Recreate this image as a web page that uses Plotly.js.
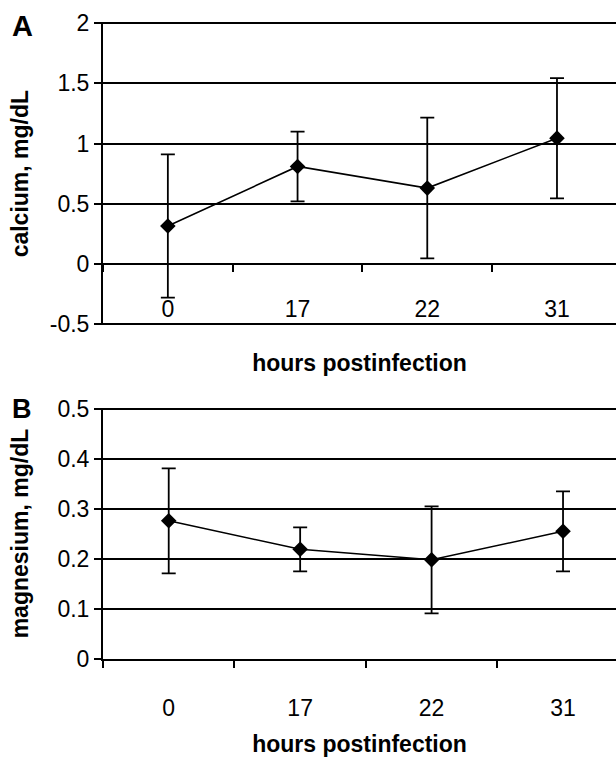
<!DOCTYPE html>
<html>
<head>
<meta charset="utf-8">
<script src="https://cdn.plot.ly/plotly-3.0.1.min.js"></script>
<style>
  html, body { margin: 0; padding: 0; background: #fff; }
  #chart { width: 616px; height: 757px; }
</style>
</head>
<body>
<div id="chart"></div>
<script>
// ---- data ----
const hours = ['0', '17', '22', '31'];
const calcium = [0.315, 0.81, 0.63, 1.045];
const calciumErr = [0.595, 0.29, 0.585, 0.50];
const magnesium = [0.277, 0.22, 0.199, 0.256];
const magnesiumErr = [0.105, 0.044, 0.107, 0.08];
const calciumTicks = [-0.5, 0, 0.5, 1, 1.5, 2];
const magnesiumTicks = [0, 0.1, 0.2, 0.3, 0.4, 0.5];

// ---- layout geometry ----
const H = 757;
// small padding so the edge gridlines (2, -0.5, 0.5) are drawn
const pxA = 120.3, eA = 0.012;          // px per unit, padding in data units
const pxB = 500, eB = 0.003;
const domA = [1 - (324 + eA * pxA) / H, 1 - (23.3 - eA * pxA) / H];
const rangeA = [-0.5 - eA, 2 + eA];
const domB = [1 - 659.3 / H, 1 - (409.3 - eB * pxB) / H];
const rangeB = [0, 0.5 + eB];
const posZeroA = domA[0] + (0 - rangeA[0]) / (rangeA[1] - rangeA[0]) * (domA[1] - domA[0]);

const FONT = 'Liberation Sans, Arial, sans-serif';
const black = '#000';

function seriesTrace(y, err, xa, ya) {
  return {
    type: 'scatter', mode: 'lines+markers',
    x: hours, y: y, xaxis: xa, yaxis: ya,
    line: { color: black, width: 1.6 },
    marker: { symbol: 'diamond', size: 12, color: black },
    error_y: { type: 'data', array: err, visible: true, color: black, thickness: 1.8, width: 7 },
    showlegend: false, cliponaxis: false
  };
}

const data = [
  seriesTrace(calcium, calciumErr, 'x', 'y'),
  seriesTrace(magnesium, magnesiumErr, 'x2', 'y2')
];

const yCommon = {
  showline: true, linecolor: black, linewidth: 2,
  ticks: 'outside', ticklen: 7, tickcolor: black, tickwidth: 2,
  showgrid: true, gridcolor: black, gridwidth: 2,
  zeroline: false,
  tickfont: { family: FONT, size: 23, color: black },
  title: { font: { family: FONT, size: 23, color: black, weight: 'bold' } }
};

const xCommon = {
  type: 'category',
  showline: true, linecolor: black, linewidth: 2,
  ticks: 'outside', ticklen: 7, tickcolor: black, tickwidth: 2,
  tickson: 'boundaries',
  showgrid: false, zeroline: false,
  tickfont: { family: FONT, size: 23, color: black },
  title: { text: 'hours postinfection', font: { family: FONT, size: 23, color: black, weight: 'bold' } }
};

const layout = {
  width: 616, height: 757,
  margin: { l: 103, r: 0, t: 0, b: 0 },
  paper_bgcolor: '#fff', plot_bgcolor: '#fff',
  font: { family: FONT, color: black },
  xaxis: Object.assign({}, xCommon, {
    range: [-0.5, 3.455],
    anchor: 'free', position: posZeroA,
    ticklabelstandoff: 25,
    title: Object.assign({}, xCommon.title, { standoff: 32 })
  }),
  yaxis: Object.assign({}, yCommon, {
    domain: domA, range: rangeA,
    tickvals: calciumTicks, ticktext: calciumTicks.map(String),
    anchor: 'x',
    title: Object.assign({}, yCommon.title, { text: 'calcium, mg/dL', standoff: 15 })
  }),
  xaxis2: Object.assign({}, xCommon, {
    range: [-0.5, 3.403],
    anchor: 'y2',
    ticklabelstandoff: 27,
    title: Object.assign({}, xCommon.title, { standoff: 33 })
  }),
  yaxis2: Object.assign({}, yCommon, {
    domain: domB, range: rangeB,
    tickvals: magnesiumTicks, ticktext: magnesiumTicks.map(String),
    anchor: 'x2',
    title: Object.assign({}, yCommon.title, { text: 'magnesium, mg/dL', standoff: 22 })
  }),
  annotations: [
    { text: '<b>A</b>', xref: 'paper', yref: 'paper', x: (22 - 103) / 513, y: 1 - 26 / H,
      xanchor: 'center', yanchor: 'middle', showarrow: false,
      font: { family: FONT, size: 29, color: black } },
    { text: '<b>B</b>', xref: 'paper', yref: 'paper', x: (22 - 103) / 513, y: 1 - 409 / H,
      xanchor: 'center', yanchor: 'middle', showarrow: false,
      font: { family: FONT, size: 27, color: black } }
  ]
};

Plotly.newPlot('chart', data, layout, { staticPlot: true, displayModeBar: false });
</script>
</body>
</html>
